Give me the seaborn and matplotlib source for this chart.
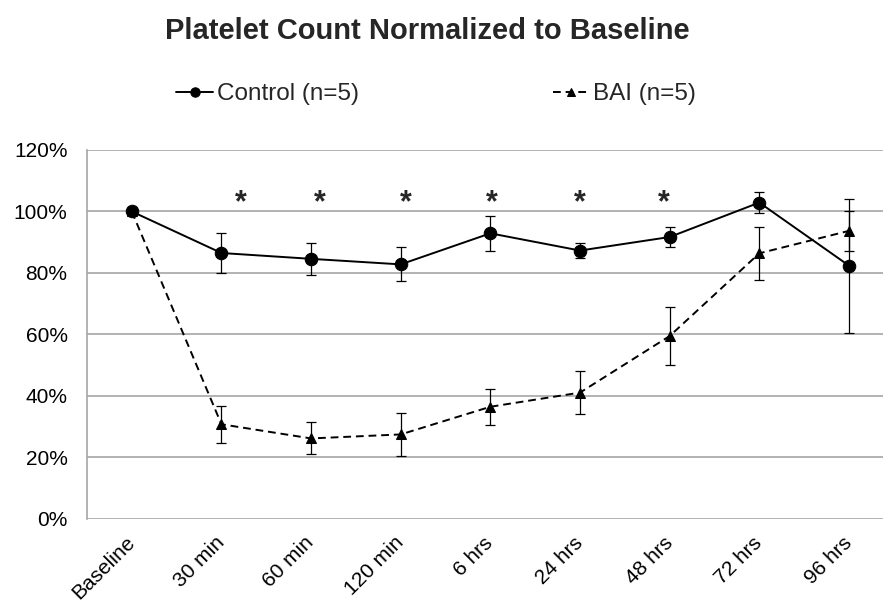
import numpy as np
import pandas as pd
import seaborn as sns
import matplotlib.pyplot as plt

# data (percent of baseline, mean +/- error)
timepoints = ["Baseline", "30 min", "60 min", "120 min", "6 hrs", "24 hrs", "48 hrs", "72 hrs", "96 hrs"]
control_mean = [100, 86.5, 84.6, 82.8, 92.9, 87.3, 91.7, 102.9, 82.4]
control_err = [0, 6.6, 5.3, 5.5, 5.6, 2.4, 3.1, 3.3, 21.8]
bai_mean = [100, 30.8, 26.2, 27.5, 36.5, 41.1, 59.5, 86.4, 93.7]
bai_err = [0, 6.0, 5.2, 7.0, 5.9, 7.1, 9.5, 8.7, 6.5]
# significance markers
star_points = ["30 min", "60 min", "120 min", "6 hrs", "24 hrs", "48 hrs"]
star_shift = [0.22, 0.10, 0.06, 0.02, 0.0, -0.07]
star_level = 102.6

sns.set_theme(style="white")
plt.rcParams["font.family"] = ["Liberation Sans", "DejaVu Sans"]

df = pd.DataFrame({
    "time": timepoints * 2,
    "value": control_mean + bai_mean,
    "err": control_err + bai_err,
    "group": ["Control (n=5)"] * len(timepoints) + ["BAI (n=5)"] * len(timepoints),
})
df["pos"] = df["time"].map({t: i for i, t in enumerate(timepoints)})

fig = plt.figure(figsize=(8.83, 6.08), dpi=100)
ax = fig.add_axes([0.0985, 0.1464, 0.9015, 0.6069])

ax.set_ylim(0, 120)
ax.set_xlim(-0.5, 8.38)
ax.yaxis.grid(True, color="#a6a6a6", linewidth=1.2)
ax.set_axisbelow(True)

styles = {
    "Control (n=5)": dict(ls="-", marker="o", ms=9),
    "BAI (n=5)": dict(ls=(0, (4, 2.5)), marker="^", ms=7.5),
}
for name, sub in df.groupby("group", sort=False):
    st = styles[name]
    sns.lineplot(data=sub, x="pos", y="value", ax=ax, color="black", linewidth=1.4,
                 linestyle=st["ls"], marker=st["marker"], markersize=st["ms"],
                 markeredgecolor="black", label=name, legend=False, sort=False)
    ax.errorbar(sub["pos"], sub["value"], yerr=sub["err"], fmt="none",
                ecolor="black", elinewidth=0.9, capsize=3.5, capthick=0.9)

for t, dx in zip(star_points, star_shift):
    ax.text(timepoints.index(t) + dx, star_level, "*", ha="center", va="center",
            fontsize=22, fontweight="bold")

ax.set_xticks(range(len(timepoints)))
ax.set_xticklabels(timepoints, rotation=45, ha="right", va="center",
                   rotation_mode="anchor", fontsize=15)
ax.set_yticks(np.arange(0, 121, 20))
ax.set_yticklabels([f"{v}%" for v in range(0, 121, 20)], fontsize=15)
ax.tick_params(axis="both", length=0, colors="black")
ax.tick_params(axis="y", pad=14)
ax.tick_params(axis="x", pad=15)
ax.set_xlabel("")
ax.set_ylabel("")

for side in ["top", "right", "bottom"]:
    ax.spines[side].set_visible(False)
ax.spines["left"].set_color("#a6a6a6")
ax.spines["left"].set_linewidth(1.2)

fig.suptitle("Platelet Count Normalized to Baseline", x=0.484, y=0.972,
             fontsize=21, fontweight="bold")
handles, labels = ax.get_legend_handles_labels()
fig.legend(handles, labels, loc="center", bbox_to_anchor=(0.494, 0.845), ncol=2,
           frameon=False, fontsize=17.5, handlelength=1.5, handletextpad=0.15,
           columnspacing=8.0, markerscale=0.75)

fig.savefig("out.png", dpi=100)
